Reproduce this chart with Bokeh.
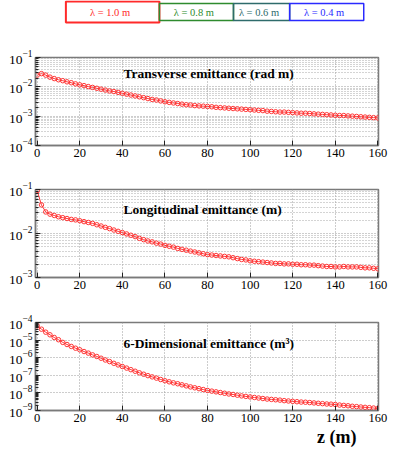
from bokeh.plotting import figure
from bokeh.models import Range1d, Label, FixedTicker, LogTickFormatter, Title
from bokeh.layouts import column
from bokeh.embed import file_html
from bokeh.resources import INLINE
from bokeh.core.properties import value

# ---------------- data ----------------
z = list(range(0, 161, 2))

transverse = [
    2.51e-2, 2.82e-2, 2.51e-2, 2.14e-2, 1.91e-2, 1.74e-2, 1.62e-2, 1.48e-2, 1.38e-2, 1.26e-2,
    1.17e-2, 1.10e-2, 1.02e-2, 9.55e-3, 8.91e-3, 8.32e-3, 7.76e-3, 7.24e-3, 6.92e-3, 6.46e-3,
    6.03e-3, 5.62e-3, 5.25e-3, 4.90e-3, 4.57e-3, 4.27e-3, 3.98e-3, 3.72e-3, 3.55e-3, 3.31e-3,
    3.09e-3, 2.95e-3, 2.82e-3, 2.69e-3, 2.57e-3, 2.45e-3, 2.40e-3, 2.29e-3, 2.24e-3, 2.19e-3,
    2.14e-3, 2.09e-3, 2.00e-3, 1.95e-3, 1.91e-3, 1.86e-3, 1.82e-3, 1.78e-3, 1.74e-3, 1.70e-3,
    1.66e-3, 1.62e-3, 1.58e-3, 1.55e-3, 1.48e-3, 1.45e-3, 1.41e-3, 1.38e-3, 1.38e-3, 1.35e-3,
    1.32e-3, 1.29e-3, 1.26e-3, 1.26e-3, 1.23e-3, 1.20e-3, 1.17e-3, 1.15e-3, 1.12e-3, 1.10e-3,
    1.07e-3, 1.05e-3, 1.05e-3, 1.02e-3, 1.00e-3, 9.77e-4, 9.55e-4, 9.33e-4, 9.12e-4, 8.91e-4,
    8.71e-4,
]

longitudinal = [
    9.33e-2, 4.47e-2, 3.09e-2, 2.75e-2, 2.57e-2, 2.40e-2, 2.29e-2, 2.19e-2, 2.09e-2, 2.04e-2,
    1.95e-2, 1.86e-2, 1.78e-2, 1.70e-2, 1.58e-2, 1.48e-2, 1.38e-2, 1.29e-2, 1.20e-2, 1.12e-2,
    1.05e-2, 9.77e-3, 9.12e-3, 8.51e-3, 7.76e-3, 7.24e-3, 6.76e-3, 6.46e-3, 6.03e-3, 5.75e-3,
    5.37e-3, 5.13e-3, 4.90e-3, 4.57e-3, 4.37e-3, 4.17e-3, 3.98e-3, 3.80e-3, 3.63e-3, 3.47e-3,
    3.31e-3, 3.24e-3, 3.16e-3, 3.09e-3, 3.02e-3, 2.95e-3, 2.82e-3, 2.69e-3, 2.57e-3, 2.51e-3,
    2.40e-3, 2.34e-3, 2.29e-3, 2.24e-3, 2.19e-3, 2.14e-3, 2.09e-3, 2.09e-3, 2.04e-3, 2.04e-3,
    2.00e-3, 2.00e-3, 1.95e-3, 1.95e-3, 1.91e-3, 1.91e-3, 1.86e-3, 1.82e-3, 1.78e-3, 1.78e-3,
    1.74e-3, 1.74e-3, 1.78e-3, 1.74e-3, 1.74e-3, 1.74e-3, 1.70e-3, 1.66e-3, 1.66e-3, 1.62e-3,
    1.58e-3,
]

six_dim = [
    6.46e-5, 4.17e-5, 2.82e-5, 2.00e-5, 1.41e-5, 1.05e-5, 7.41e-6, 5.62e-6, 4.37e-6, 3.47e-6,
    2.82e-6, 2.24e-6, 1.82e-6, 1.45e-6, 1.17e-6, 9.33e-7, 7.41e-7, 6.03e-7, 4.79e-7, 3.89e-7,
    3.16e-7, 2.57e-7, 2.09e-7, 1.70e-7, 1.38e-7, 1.15e-7, 9.55e-8, 8.13e-8, 6.92e-8, 5.75e-8,
    4.90e-8, 4.27e-8, 3.72e-8, 3.31e-8, 2.88e-8, 2.51e-8, 2.19e-8, 1.95e-8, 1.74e-8, 1.55e-8,
    1.38e-8, 1.26e-8, 1.15e-8, 1.05e-8, 9.55e-9, 8.71e-9, 8.13e-9, 7.41e-9, 6.76e-9, 6.31e-9,
    5.89e-9, 5.50e-9, 5.13e-9, 4.79e-9, 4.47e-9, 4.27e-9, 4.07e-9, 3.89e-9, 3.63e-9, 3.47e-9,
    3.31e-9, 3.16e-9, 3.02e-9, 2.95e-9, 2.82e-9, 2.69e-9, 2.57e-9, 2.45e-9, 2.34e-9, 2.29e-9,
    2.19e-9, 2.04e-9, 1.95e-9, 1.86e-9, 1.74e-9, 1.66e-9, 1.58e-9, 1.51e-9, 1.45e-9, 1.38e-9,
    1.29e-9,
]

x_ticks = [0, 20, 40, 60, 80, 100, 120, 140, 160]
decades_transverse = [-4, -3, -2, -1]
decades_longitudinal = [-3, -2, -1]
decades_six_dim = [-9, -8, -7, -6, -5, -4]

legend_labels = ["λ = 1.0 m", "λ = 0.8 m", "λ = 0.6 m", "λ = 0.4 m"]
legend_colors = ["#ff2a2a", "#2e8b2e", "#2e6b6b", "#2a2aff"]

panel_titles = [
    "Transverse emittance (rad m)",
    "Longitudinal emittance (m)",
    "6-Dimensional emittance (m³)",
]
x_title = "z (m)"

# ---------------- styling ----------------
SERIF = "Liberation Serif"
RED = "#ff3535"
FRAME = "#7a7a7a"
GRID = "#9a9a9a"
W = 395

# ---------------- legend strip ----------------
leg = figure(width=W, height=24, x_range=Range1d(0, W), y_range=Range1d(0, 24),
             output_backend="svg", toolbar_location=None,
             min_border=0, outline_line_color=None)
leg.axis.visible = False
leg.grid.visible = False
box_left = [35, 142.7, 228, 292.7]
box_right = [142.7, 228, 292.7, 378]
box_bottom = [2, 4, 4, 4]
box_top = [23, 21, 21, 21]
box_lw = [2, 1.5, 1.5, 1.5]
leg.quad(left=box_left, right=box_right, bottom=box_bottom, top=box_top,
         fill_color=None, line_color=legend_colors, line_width=box_lw)
leg.text(x=[(a + b) / 2 - 3 for a, b in zip(box_left, box_right)], y=[12.5] * 4,
         text=legend_labels, text_color=legend_colors,
         text_align="center", text_baseline="middle",
         text_font=value(SERIF), text_font_size="10.5px")


def log_ticks(decades):
    major = [10.0 ** d for d in decades]
    minor = [m * 10.0 ** d for d in decades[:-1] for m in range(2, 10)]
    return FixedTicker(ticks=major, minor_ticks=minor)


def make_panel(yvals, decades, title, title_x, title_y, height, top, bottom, minor_grid):
    p = figure(width=W, height=height, x_range=Range1d(-0.8, 160.3),
               y_range=Range1d(10.0 ** decades[0], 10.0 ** decades[-1]),
               y_axis_type="log",
               output_backend="svg", toolbar_location=None,
               min_border_left=35, min_border_right=17,
               min_border_top=top, min_border_bottom=bottom,
               background_fill_color="white", border_fill_color="white")
    p.outline_line_color = FRAME
    p.outline_line_width = 1.5

    yt = log_ticks(decades)
    p.yaxis.ticker = yt
    p.ygrid.ticker = yt
    p.yaxis.formatter = LogTickFormatter()
    xt = FixedTicker(ticks=x_ticks)
    p.xaxis.ticker = xt
    p.xgrid.ticker = xt

    for ax in (p.xaxis, p.yaxis):
        ax.axis_line_color = FRAME
        ax.axis_line_width = 1.5
        ax.major_tick_line_color = "#222222"
        ax.major_tick_out = 0
        ax.major_tick_in = 5
        ax.major_label_text_font = SERIF
        ax.major_label_text_color = "black"
        ax.major_label_standoff = 3
    p.xaxis.minor_tick_line_color = None
    p.xaxis.major_label_text_font_size = "12.5px"
    p.yaxis.major_label_text_font_size = "13.5px"
    p.yaxis.major_label_standoff = 3
    p.yaxis.minor_tick_in = 3
    p.yaxis.minor_tick_out = 0
    p.yaxis.minor_tick_line_color = "#222222"

    p.xgrid.grid_line_color = GRID
    p.xgrid.grid_line_dash = "1 2"
    p.ygrid.grid_line_color = GRID
    p.ygrid.grid_line_dash = "1 2"
    if minor_grid:
        p.ygrid.minor_grid_line_color = "#a8a8a8"
        p.ygrid.minor_grid_line_dash = "1 2"

    p.line(z, yvals, line_color=RED, line_width=1)
    p.scatter(z, yvals, marker="circle", size=4.5, line_color=RED,
              fill_color=None, line_width=1)

    p.add_layout(Label(x=title_x, y=title_y, text=title, text_font=SERIF,
                       text_font_style="bold", text_font_size="13.5px",
                       text_baseline="middle", text_color="black"))
    return p


p1 = make_panel(transverse, decades_transverse, panel_titles[0], 40.5, 2.9e-2,
                143, 33, 22, True)
p2 = make_panel(longitudinal, decades_longitudinal, panel_titles[1], 40.5, 3.5e-2,
                132, 22, 22, True)
p3 = make_panel(six_dim, decades_six_dim, panel_titles[2], 40.5, 6.4e-6,
                151, 23, 40, False)
p3.add_layout(Title(text=x_title, align="right", offset=22, standoff=0,
                    text_font=SERIF, text_font_style="bold", text_font_size="18px",
                    text_color="black"), "below")

layout = column(leg, p1, p2, p3, spacing=0)
open("out.html", "w").write(file_html(layout, INLINE))
